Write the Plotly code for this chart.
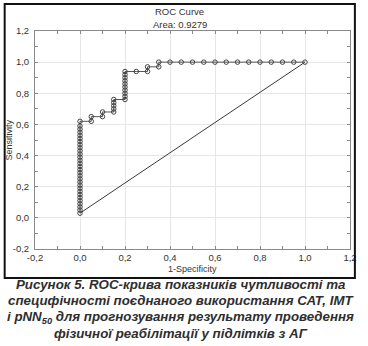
import plotly.graph_objects as go

# ROC curve points: 1-Specificity (x) and Sensitivity (y)
fpr = [0.0] * 30 + [0.05, 0.05, 0.10, 0.10] + [0.15] * 5 + [0.20] * 10 + \
      [0.25, 0.30, 0.30, 0.35, 0.35, 0.40, 0.45, 0.50, 0.55, 0.60, 0.65,
       0.70, 0.75, 0.80, 0.85, 0.90, 0.95, 1.00]
tpr = [0.03, 0.05, 0.07, 0.09, 0.11, 0.13, 0.15, 0.17, 0.19, 0.21,
       0.23, 0.25, 0.27, 0.29, 0.31, 0.33, 0.35, 0.37, 0.39, 0.41,
       0.43, 0.45, 0.47, 0.49, 0.51, 0.53, 0.55, 0.57, 0.59, 0.62,
       0.62, 0.65, 0.65, 0.68,
       0.68, 0.70, 0.72, 0.74, 0.76,
       0.76, 0.78, 0.80, 0.82, 0.84, 0.86, 0.88, 0.90, 0.92, 0.94,
       0.94, 0.94, 0.97, 0.97, 1.00, 1.00, 1.00, 1.00, 1.00, 1.00, 1.00,
       1.00, 1.00, 1.00, 1.00, 1.00, 1.00, 1.00]

tick_vals = [-0.2, 0.0, 0.2, 0.4, 0.6, 0.8, 1.0, 1.2]
tick_text = ["-0,2", "0,0", "0,2", "0,4", "0,6", "0,8", "1,0", "1,2"]

area = "0.9279"
title_lines = ["ROC Curve", "Area: " + area]
x_title = "1-Specificity"
y_title = "Sensitivity"
caption_lines = [
    "Рисунок 5. ROC-крива показників чутливості та",
    "специфічності поєднаного використання САТ, ІМТ",
    "і pNN<sub>50</sub> для прогнозування результату проведення",
    "фізичної реабілітації у підлітків з АГ",
]

W, H = 368, 346
L, R, T, B = 35, 357, 31, 249
FONT = "Liberation Sans, Arial, sans-serif"


def px_x(p):
    return (p - L) / (R - L)


def px_y(p):
    return (B - p) / (B - T)


fig = go.Figure()

# reference diagonal from first to last ROC point
fig.add_trace(go.Scatter(
    x=[fpr[0], fpr[-1]], y=[tpr[0], tpr[-1]], mode="lines",
    line=dict(color="#3a3a3a", width=1), hoverinfo="skip", showlegend=False))

fig.add_trace(go.Scatter(
    x=fpr, y=tpr, mode="lines+markers",
    line=dict(color="#555555", width=1),
    marker=dict(symbol="circle-open", size=4.5, color="#444444",
                line=dict(width=1, color="#444444")),
    showlegend=False))

axis_common = dict(
    range=[-0.2, 1.2], tickmode="array", tickvals=tick_vals, ticktext=tick_text,
    showgrid=True, gridcolor="#e6e6e6", gridwidth=1,
    zeroline=False, showline=True, linecolor="#8a8a8a", linewidth=1,
    mirror="ticks", ticks="inside", ticklen=3, tickcolor="#8a8a8a",
    minor=dict(dtick=0.1, tick0=0, ticks="inside", ticklen=3,
               tickcolor="#8a8a8a", showgrid=False),
    tickfont=dict(family=FONT, size=9.5, color="#333333"),
    fixedrange=True,
)
fig.update_xaxes(**axis_common, ticklabelstandoff=0)
fig.update_yaxes(**axis_common, ticklabelstandoff=3)

ann = []
for i, t in enumerate(title_lines):
    ann.append(dict(text=t, x=px_x(183), y=px_y(12 + 12 * i),
                    xref="paper", yref="paper", showarrow=False,
                    xanchor="center", yanchor="middle",
                    font=dict(family=FONT, size=9.5, color="#333333")))
ann.append(dict(text=x_title, x=0.5, y=px_y(269), xref="paper", yref="paper",
                showarrow=False, xanchor="center", yanchor="middle",
                font=dict(family=FONT, size=9, color="#333333")))
ann.append(dict(text=y_title, x=px_x(8), y=0.5, xref="paper", yref="paper",
                showarrow=False, xanchor="center", yanchor="middle",
                textangle=-90,
                font=dict(family=FONT, size=9, color="#333333")))
for i, t in enumerate(caption_lines):
    ann.append(dict(text="<b><i>" + t + "</i></b>", x=px_x(184),
                    y=px_y(284 + 16.5 * i), xref="paper", yref="paper",
                    showarrow=False, xanchor="center", yanchor="middle",
                    font=dict(family=FONT, size=13.3, color="#2e2e2e")))

# outer frame around the chart
shapes = [dict(type="rect", xref="paper", yref="paper",
               x0=px_x(4), x1=px_x(362), y0=px_y(278), y1=px_y(4),
               line=dict(color="#111111", width=2), fillcolor="rgba(0,0,0,0)",
               layer="above")]

fig.update_layout(
    width=W, height=H,
    margin=dict(l=L, r=W - R, t=T, b=H - B, pad=0),
    paper_bgcolor="white", plot_bgcolor="white",
    annotations=ann, shapes=shapes,
)

fig.write_html("out.html", config={"displayModeBar": False})
